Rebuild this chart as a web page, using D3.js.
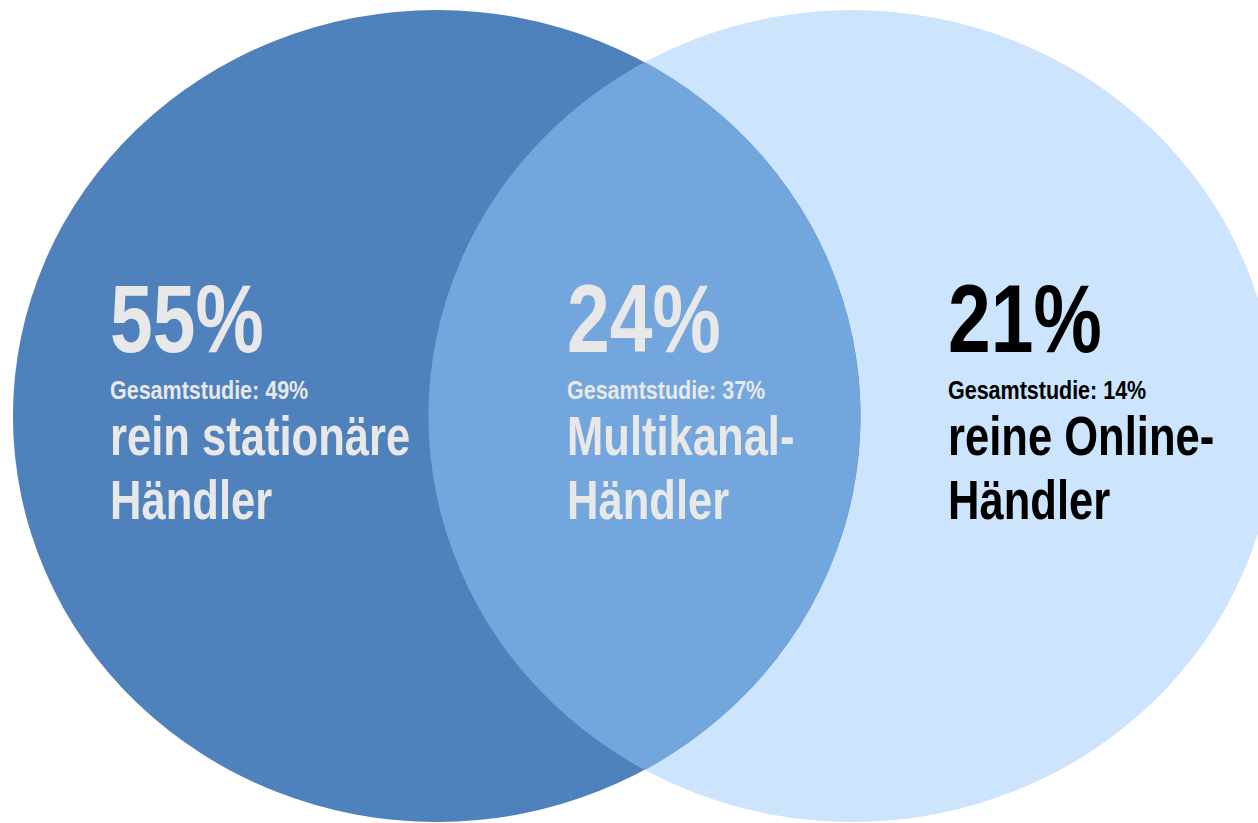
<!DOCTYPE html>
<html>
<head>
<meta charset="utf-8">
<script src="https://cdn.jsdelivr.net/npm/d3@7"></script>
<style>
  html, body { margin: 0; padding: 0; background: #fff; }
  svg { display: block; }
  text { font-family: "Liberation Sans Narrow", "Arial Narrow", "Liberation Sans", sans-serif; font-weight: bold; }
</style>
</head>
<body>
<svg id="chart" width="1258" height="823"></svg>
<script>
// Anteile der Händlertypen (Venn: links / Schnittmenge / rechts)
var segments = ["stationaer", "multikanal", "online"];
var shares = [55, 24, 21];
var gesamtstudie = [49, 37, 14];
var labelLine1 = ["rein stationäre", "Multikanal-", "reine Online-"];
var labelLine2 = ["Händler", "Händler", "Händler"];

var svg = d3.select("#chart");

// abstract venn units -> pixels
var x = d3.scaleLinear().domain([0, 1]).range([13, 1276]);
var y = d3.scaleLinear().domain([0, 1]).range([10, 822]);

var rx = (x(0.6711) - x(0)) / 2, ry = (y(1) - y(0)) / 2;
var leftSet = { cx: x(0.3355), cy: y(0.5), rx: rx, ry: ry };
var rightSet = { cx: x(0.6645), cy: y(0.5), rx: rx, ry: ry };

var fills = ["#4F81BD", "#73A6DC", "#CCE4FC"];
var textFill = ["#E8E8E8", "#E8E8E8", "#000000"];

svg.append("defs").append("clipPath").attr("id", "clipLeft")
  .append("ellipse")
  .attr("cx", leftSet.cx).attr("cy", leftSet.cy)
  .attr("rx", leftSet.rx).attr("ry", leftSet.ry);

svg.append("ellipse")
  .attr("cx", rightSet.cx).attr("cy", rightSet.cy)
  .attr("rx", rightSet.rx).attr("ry", rightSet.ry)
  .attr("fill", fills[2]);

svg.append("ellipse")
  .attr("cx", leftSet.cx).attr("cy", leftSet.cy)
  .attr("rx", leftSet.rx).attr("ry", leftSet.ry)
  .attr("fill", fills[0]);

// Schnittmenge
svg.append("ellipse")
  .attr("clip-path", "url(#clipLeft)")
  .attr("cx", rightSet.cx).attr("cy", rightSet.cy)
  .attr("rx", rightSet.rx).attr("ry", rightSet.ry)
  .attr("fill", fills[1]);

// text blocks (narrow bold look: squeeze horizontally)
var textX = [110, 567, 948];
var g = svg.selectAll("g.seg")
  .data(segments)
  .enter().append("g")
  .attr("class", "seg")
  .attr("transform", function (d, i) { return "translate(" + textX[i] + ",0)"; })
  .attr("fill", function (d, i) { return textFill[i]; });

function line(sel, yy, size, sx, fn) {
  sel.append("text")
    .attr("transform", "translate(0," + yy + ") scale(" + sx + ",1)")
    .attr("font-size", size)
    .text(fn);
}

line(g, 352, 96, 0.80, function (d, i) { return shares[i] + "%"; });
line(g, 399, 25, 0.86, function (d, i) { return "Gesamtstudie: " + gesamtstudie[i] + "%"; });
line(g, 455, 56, 0.778, function (d, i) { return labelLine1[i]; });
line(g, 519, 56, 0.778, function (d, i) { return labelLine2[i]; });
</script>
</body>
</html>
